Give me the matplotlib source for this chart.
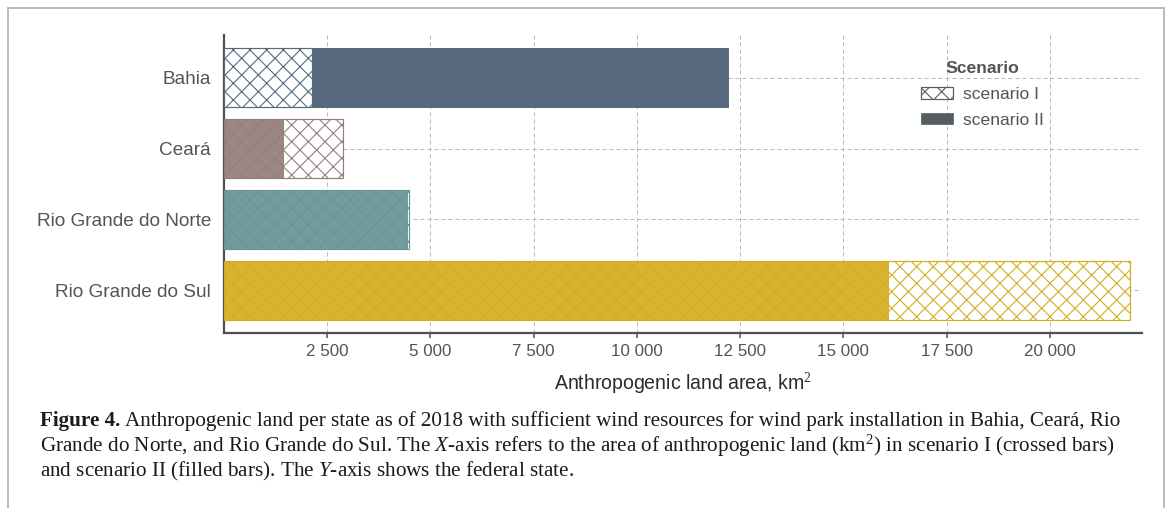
"""Anthropogenic land per state, scenario I (crossed) vs scenario II (filled)."""
import matplotlib
matplotlib.use("Agg")
import matplotlib.pyplot as plt
import matplotlib.patches as mpatches
from matplotlib.lines import Line2D
from matplotlib.ticker import FuncFormatter

STATES = ["Bahia", "Ceará", "Rio Grande do Norte", "Rio Grande do Sul"]
SCENARIO_I = [2120, 2870, 4470, 21930]     # crossed bars, km2
SCENARIO_II = [12200, 1440, 4430, 16090]   # filled bars, km2
COLORS = ["#56697f", "#957e7b", "#699495", "#d4ad1f"]
X_TICKS = [2500, 5000, 7500, 10000, 12500, 15000, 17500, 20000]

DPI = 50          # low dpi -> coarser hatch, like the reference
W, H = 1171, 508


def px(v):
    """pixels -> points at the chosen dpi"""
    return v * 72.0 / DPI


plt.rcParams["hatch.linewidth"] = px(1.1)
plt.rcParams["mathtext.fontset"] = "custom"
plt.rcParams["mathtext.rm"] = "Liberation Serif"
plt.rcParams["mathtext.it"] = "Liberation Serif:italic"
plt.rcParams["mathtext.bf"] = "Liberation Serif:bold"

SANS = ["Liberation Sans", "DejaVu Sans"]
NARROW = ["Liberation Sans Narrow", "Liberation Sans", "DejaVu Sans"]
TXT = "#4f5559"
GRID = "#b8b8b8"

fig = plt.figure(figsize=(W / DPI, H / DPI), dpi=DPI)
ax = fig.add_axes([224 / W, 1 - 333 / H, (1142 - 224) / W, (333 - 35) / H])

ypos = list(range(len(STATES)))
for y, s1, s2, col in zip(ypos, SCENARIO_I, SCENARIO_II, COLORS):
    crossed = dict(color="white", edgecolor=col, hatch="x", linewidth=px(1.2))
    filled = dict(color=col, edgecolor=col, linewidth=px(1.0))
    if s1 >= s2:
        ax.barh(y, s1, height=0.82, zorder=2, **crossed)
        ax.barh(y, s2, height=0.82, zorder=3, alpha=0.93, **filled)
    else:
        ax.barh(y, s2, height=0.82, zorder=2, **filled)
        ax.barh(y, s1, height=0.82, zorder=3, **crossed)

ax.set_yticks(ypos)
ax.set_yticklabels(STATES, family=SANS, fontsize=px(19), color=TXT)
ax.set_ylim(len(STATES) - 0.4, -0.6)
ax.set_xlim(0, 22230)
ax.set_xticks(X_TICKS)
ax.xaxis.set_major_formatter(FuncFormatter(lambda v, _: f"{int(v):,}".replace(",", " ")))
for lab in ax.get_xticklabels():
    lab.set_family(NARROW)
    lab.set_fontsize(px(17))
    lab.set_color(TXT)

ax.tick_params(axis="x", direction="out", length=px(5), width=px(1.5),
               color="#4a5055", pad=px(6))
ax.tick_params(axis="y", length=0, pad=px(13))
ax.grid(True, color=GRID, linestyle=(0, (4, 3)), linewidth=px(1.0), zorder=0)
ax.set_axisbelow(True)
for side in ("top", "right"):
    ax.spines[side].set_visible(False)
for side in ("left", "bottom"):
    ax.spines[side].set_color("#4a5055")
    ax.spines[side].set_linewidth(px(2.2))

ax.set_xlabel("Anthropogenic land area, km$^2$", family=NARROW,
              fontsize=px(19.5), color="#2b2b2b", labelpad=px(12))

handles = [
    mpatches.Patch(facecolor="white", edgecolor="#555d61", hatch="x",
                   linewidth=px(1.2), label="scenario I"),
    mpatches.Patch(facecolor="#555d61", edgecolor="#555d61", label="scenario II"),
]
leg = ax.legend(handles=handles, title="Scenario", loc="upper left",
                bbox_to_anchor=(921 / W, 1 - 61 / H), bbox_transform=fig.transFigure,
                frameon=False, prop={"family": SANS, "size": px(17.5)},
                handlelength=1.85, handleheight=0.65, handletextpad=0.55,
                labelspacing=0.62, borderaxespad=0, borderpad=0)
leg.get_title().set_fontproperties({"family": SANS, "size": px(17.5), "weight": "bold"})
leg.get_title().set_color(TXT)
for t in leg.get_texts():
    t.set_color(TXT)

# caption: bold lead-in, then the rest placed right after it
CAP_SIZE = px(21.1)
lead = fig.text(40 / W, 1 - 421 / H, "Figure 4.", family="Liberation Serif",
                weight="bold", fontsize=CAP_SIZE, color="#1a1a1a",
                ha="left", va="center")
fig.canvas.draw()
lead_end = lead.get_window_extent().x1 / W + 5 / W
cap = [
    "Anthropogenic land per state as of 2018 with sufficient wind "
    "resources for wind park installation in Bahia, Ceará, Rio",
    r"Grande do Norte, and Rio Grande do Sul. The $X$-axis refers to the area of "
    r"anthropogenic land (km$^{2}$) in scenario I (crossed bars)",
    r"and scenario II (filled bars). The $Y$-axis shows the federal state.",
]
for i, line in enumerate(cap):
    fig.text(lead_end if i == 0 else 40 / W, 1 - (421 + 25 * i) / H, line,
             family="Liberation Serif", fontsize=CAP_SIZE, color="#1a1a1a",
             ha="left", va="center")

# page frame lines
frame = dict(color="#bcbcbc", linewidth=px(2), transform=fig.transFigure)
fig.add_artist(Line2D([8 / W, 8 / W], [0, 1 - 8 / H], **frame))
fig.add_artist(Line2D([8 / W, 1164 / W], [1 - 8 / H, 1 - 8 / H], **frame))
fig.add_artist(Line2D([1164 / W, 1164 / W], [0, 1 - 8 / H], **frame))

fig.savefig("out.png", dpi=DPI)
